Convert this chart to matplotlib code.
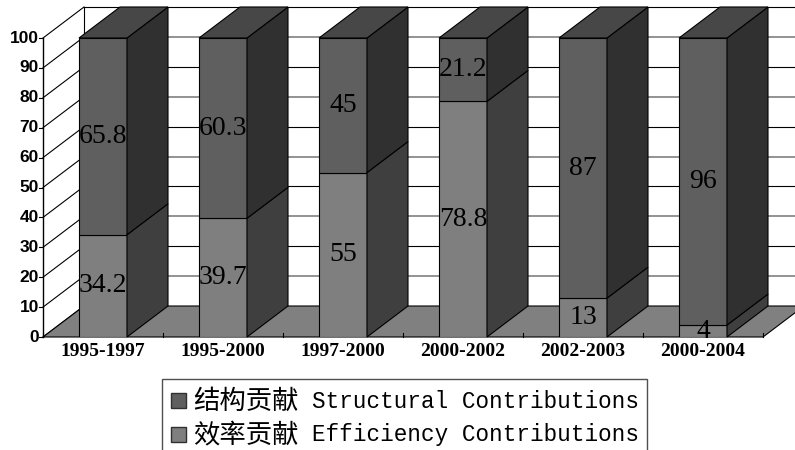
import matplotlib
matplotlib.use("Agg")
import matplotlib.pyplot as plt
from matplotlib.patches import Polygon, Rectangle

# 各时期结构贡献与效率贡献 (%)
periods = ['1995-1997', '1995-2000', '1997-2000', '2000-2002', '2002-2003', '2000-2004']
structural = [65.8, 60.3, 45, 21.2, 87, 96]
efficiency = [34.2, 39.7, 55, 78.8, 13, 4]
yticks = list(range(0, 101, 10))

# 颜色: 正面 / 侧面 / 顶面
struct_front, struct_side, struct_top = '#5f5f5f', '#303030', '#474747'
eff_front, eff_side = '#7f7f7f', '#3f3f3f'
floor_color = '#808080'

W, H = 795, 450
fig = plt.figure(figsize=(W / 100, H / 100), dpi=100)
ax = fig.add_axes([43 / W, 113 / H, 720 / W, 299 / H])
ax.set_xlim(-0.5, len(periods) - 0.5)
ax.set_ylim(0, 100)
ax.axis('off')

# 透视深度 (数据单位)
px_x = 720 / len(periods)
px_y = 299 / 100
DX = 41 / px_x
DY = 31 / px_y
bw = 0.4
x0, x1 = -0.5, len(periods) - 0.5

# 背景墙网格线
for k, v in enumerate(yticks[1:]):
    c, lw = ('#8a8a8a', 1.3) if k % 2 == 0 else ('black', 0.8)
    ax.plot([x0 + DX, x1 + DX + 1], [v + DY, v + DY], color=c, lw=lw,
            clip_on=False, zorder=1)
ax.plot([x0 + DX, x0 + DX], [DY, 100 + DY], color='black', lw=0.8, clip_on=False, zorder=1)

# 左侧墙
for v in yticks:
    ax.plot([x0, x0 + DX], [v, v + DY], color='black', lw=0.8, clip_on=False, zorder=1)
ax.plot([x0, x0], [0, 100], color='black', lw=1, clip_on=False, zorder=2)
for v in yticks:
    ax.plot([x0 - 4 / px_x, x0], [v, v], color='black', lw=0.8, clip_on=False, zorder=2)
    ax.text(x0 - 4 / px_x, v, str(v), ha='right', va='center', fontsize=12.5,
            fontweight='bold', family='Liberation Sans')

# 底面
ax.add_patch(Polygon([(x0, 0), (x1, 0), (x1 + DX, DY), (x0 + DX, DY)], closed=True,
                     fc=floor_color, ec='black', lw=0.8, clip_on=False, zorder=2))
for i in range(len(periods) + 1):
    ax.plot([x0 + i, x0 + i], [0, 4 / px_y], color='black', lw=0.8, clip_on=False, zorder=2)


def side_face(xr, y0, y1):
    return [(xr, y0), (xr, y1), (xr + DX, y1 + DY), (xr + DX, y0 + DY)]


xs = range(len(periods))
ax.bar(xs, efficiency, width=bw, color=eff_front, edgecolor='black', lw=0.8, zorder=3)
ax.bar(xs, structural, width=bw, bottom=efficiency, color=struct_front,
       edgecolor='black', lw=0.8, zorder=3)

for i, (e, s) in enumerate(zip(efficiency, structural)):
    xr = i + bw / 2
    top = e + s
    ax.add_patch(Polygon(side_face(xr, 0, e), closed=True, fc=eff_side, ec='black',
                         lw=0.8, clip_on=False, zorder=3))
    ax.add_patch(Polygon(side_face(xr, e, top), closed=True, fc=struct_side, ec='black',
                         lw=0.8, clip_on=False, zorder=3))
    ax.add_patch(Polygon([(i - bw / 2, top), (xr, top), (xr + DX, top + DY),
                          (i - bw / 2 + DX, top + DY)], closed=True, fc=struct_top,
                         ec='black', lw=0.8, clip_on=False, zorder=3))
    # 数值标签
    ax.text(i, e / 2, f'{e:g}', ha='center', va='center', fontsize=20,
            family='Liberation Serif', zorder=5)
    ax.text(i, e + s / 2, f'{s:g}', ha='center', va='center', fontsize=20,
            family='Liberation Serif', zorder=5)
    ax.text(i, -14 / px_y, periods[i], ha='center', va='center', fontsize=14,
            fontweight='bold', family='Liberation Serif')

# 图例
fig.add_artist(Rectangle((162 / W, -0.1), (647 - 162) / W, 0.1 + (H - 379) / H,
                         transform=fig.transFigure, fill=False, ec='#505050', lw=1))
legend_rows = [('结构贡献', 'Structural Contributions', struct_front, 401),
               ('效率贡献', 'Efficiency Contributions', eff_front, 435)]
for cn, en, col, yc in legend_rows:
    fig.add_artist(Rectangle((171 / W, 1 - (yc + 7) / H), 15 / W, 15 / H,
                             transform=fig.transFigure, fc=col, ec='#303030', lw=1))
    fig.text(193 / W, 1 - yc / H, cn, ha='left', va='center', fontsize=19,
             family='Noto Sans CJK SC')
    fig.text(312 / W, 1 - yc / H, en, ha='left', va='center', fontsize=16.3,
             family='Liberation Mono')

fig.savefig('out.png', dpi=100)
